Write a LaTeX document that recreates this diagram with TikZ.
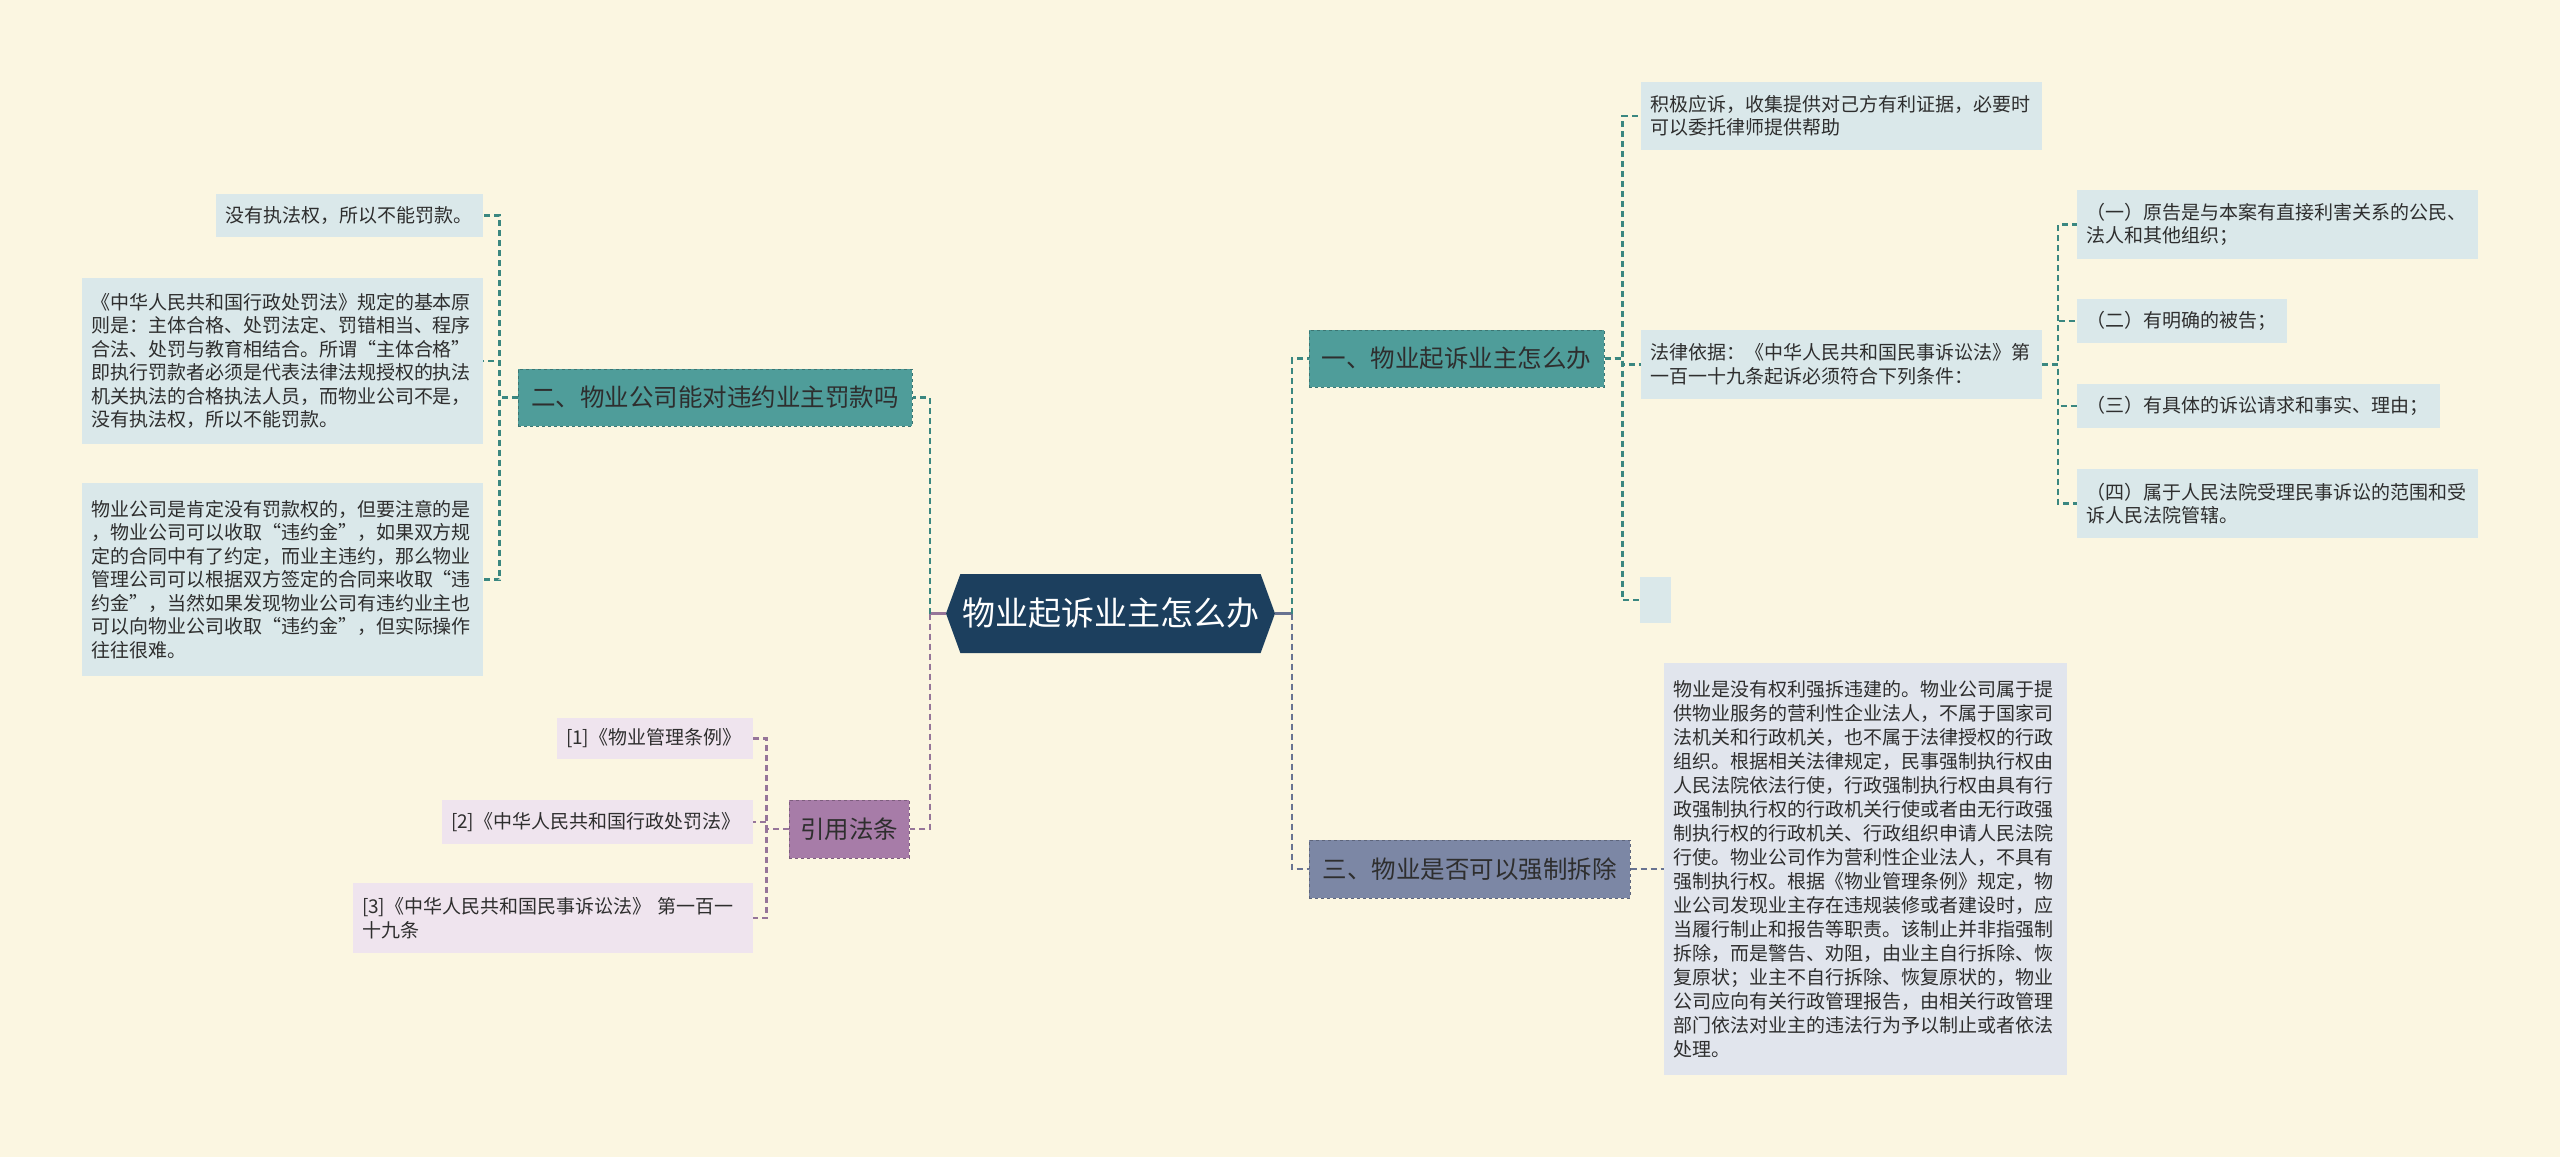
\documentclass[tikz,border=0pt]{standalone}
\usepackage{fontspec}
\newfontfamily\cjk{Noto Sans CJK SC}
\usepackage{tikz}
\usetikzlibrary{arrows.meta, shapes.symbols}
\definecolor{bgCream}{HTML}{FBF6E1}
\definecolor{rootBlue}{HTML}{1C3F5E}
\definecolor{tealFill}{HTML}{4F9D9A}
\definecolor{tealLine}{HTML}{3A8780}
\definecolor{plumFill}{HTML}{A77CA8}
\definecolor{plumLine}{HTML}{967599}
\definecolor{slateFill}{HTML}{7C87A5}
\definecolor{slateLine}{HTML}{687391}
\definecolor{leafBlue}{HTML}{DAE8EA}
\definecolor{leafPlum}{HTML}{EFE4EE}
\definecolor{leafSlate}{HTML}{E1E5ED}

\begin{document}
\begin{tikzpicture}[x=1pt, y=-1pt, >=Stealth,
      every node/.style={font=\cjk},
      root/.style={signal, signal to=west and east, signal pointer angle=140,
                   fill=rootBlue, text=white, inner sep=0,
                   minimum width=329, minimum height=79,
                   font=\cjk\fontsize{33}{38}\selectfont},
      topic/.style={draw=#1!75!black, fill=#1, dashed, line width=1pt,
                    text=black!82, inner sep=0,
                    font=\cjk\fontsize{24.5}{28}\selectfont},
      leaf/.style={fill=#1, text=black!82, align=left, inner xsep=9, inner ysep=0,
                   font=\cjk\fontsize{19}{23.5}\selectfont},
      stem/.style={line width=2.4pt},
      link/.style={dash pattern=on 6pt off 4pt, line width=2.1pt}]
    \useasboundingbox (0,0) rectangle (2560,1157);
    \fill[bgCream] (0,0) rectangle (2560,1157);

    % centre
    \node[root] (root) at (1110.5,613.5) {物业起诉业主怎么办};

    % left: 二
    \node[topic=tealFill, minimum width=394, minimum height=57] (er) at (715,397.5) {二、物业公司能对违约业主罚款吗};
    \node[leaf=leafBlue, text width=249, minimum height=43] (a1) at (349.5,215.5) {没有执法权，所以不能罚款。};
    \node[leaf=leafBlue, text width=383, minimum height=166] (a2) at (282.5,361)
      {《中华人民共和国行政处罚法》规定的基本原\\则是：主体合格、处罚法定、罚错相当、程序\\合法、处罚与教育相结合。所谓“主体合格”\\即执行罚款者必须是代表法律法规授权的执法\\机关执法的合格执法人员，而物业公司不是，\\没有执法权，所以不能罚款。};
    \node[leaf=leafBlue, text width=383, minimum height=193] (a3) at (282.5,579.5)
      {物业公司是肯定没有罚款权的，但要注意的是\\，物业公司可以收取“违约金”，如果双方规\\定的合同中有了约定，而业主违约，那么物业\\管理公司可以根据双方签定的合同来收取“违\\约金”，当然如果发现物业公司有违约业主也\\可以向物业公司收取“违约金”，但实际操作\\往往很难。};

    % left: 引用法条
    \node[topic=plumFill, minimum width=120, minimum height=58] (yy) at (849,829) {引用法条};
    \node[leaf=leafPlum, text width=178, minimum height=41] (b1) at (655,738.5) {[1]《物业管理条例》};
    \node[leaf=leafPlum, text width=293, minimum height=44] (b2) at (597.5,822) {[2]《中华人民共和国行政处罚法》};
    \node[leaf=leafPlum, text width=382, minimum height=70] (b3) at (553,918) {[3]《中华人民共和国民事诉讼法》 第一百一\\十九条};

    % right: 一
    \node[topic=tealFill, minimum width=295, minimum height=57] (yi) at (1456.5,358.5) {一、物业起诉业主怎么办};
    \node[leaf=leafBlue, text width=383, minimum height=68] (c1) at (1841.5,116) {积极应诉，收集提供对己方有利证据，必要时\\可以委托律师提供帮助};
    \node[leaf=leafBlue, text width=383, minimum height=69] (c2) at (1841.5,364.5) {法律依据：《中华人民共和国民事诉讼法》第\\一百一十九条起诉必须符合下列条件：};
    \node[leaf=leafBlue, inner sep=0, minimum width=31, minimum height=46] (c3) at (1655.5,600) {};
    \node[leaf=leafBlue, text width=383, minimum height=69] (d1) at (2277.5,224.5) {（一）原告是与本案有直接利害关系的公民、\\法人和其他组织；};
    \node[leaf=leafBlue, text width=192, minimum height=44] (d2) at (2182,321) {（二）有明确的被告；};
    \node[leaf=leafBlue, text width=345, minimum height=44] (d3) at (2258.5,406) {（三）有具体的诉讼请求和事实、理由；};
    \node[leaf=leafBlue, text width=383, minimum height=69] (d4) at (2277.5,503.5) {（四）属于人民法院受理民事诉讼的范围和受\\诉人民法院管辖。};

    % right: 三
    \node[topic=slateFill, minimum width=321, minimum height=58] (san) at (1469.5,869) {三、物业是否可以强制拆除};
    \node[leaf=leafSlate, text width=385, minimum height=412, font=\cjk\fontsize{19}{24}\selectfont] (e1) at (1865.5,869)
      {物业是没有权利强拆违建的。物业公司属于提\\供物业服务的营利性企业法人，不属于国家司\\法机关和行政机关，也不属于法律授权的行政\\组织。根据相关法律规定，民事强制执行权由\\人民法院依法行使，行政强制执行权由具有行\\政强制执行权的行政机关行使或者由无行政强\\制执行权的行政机关、行政组织申请人民法院\\行使。物业公司作为营利性企业法人，不具有\\强制执行权。根据《物业管理条例》规定，物\\业公司发现业主存在违规装修或者建设时，应\\当履行制止和报告等职责。该制止并非指强制\\拆除，而是警告、劝阻，由业主自行拆除、恢\\复原状；业主不自行拆除、恢复原状的，物业\\公司应向有关行政管理报告，由相关行政管理\\部门依法对业主的违法行为予以制止或者依法\\处理。};

    % connectors
    \draw[stem, plumLine] (root.west) -- ++(-16,0) coordinate (lt);
    \draw[link, tealLine] (lt) |- (er.east);
    \draw[link, plumLine] (lt) |- (yy.east);
    \draw[stem, slateLine] (root.east) -- ++(17,0) coordinate (rt);
    \draw[link, tealLine] (rt) |- (yi.west);
    \draw[link, slateLine] (rt) |- (san.west);
    \foreach \n in {a1,a2,a3}
      \draw[link, tealLine] (er.west) -- ++(-18,0) |- (\n.east);
    \foreach \n in {b1,b2,b3}
      \draw[link, plumLine] (yy.west) -- ++(-22,0) |- (\n.east);
    \foreach \n in {c1,c2,c3}
      \draw[link, tealLine] (yi.east) -- ++(18,0) |- (\n.west);
    \foreach \n in {d1,d2,d3,d4}
      \draw[link, tealLine] (c2.east) -- ++(16,0) |- (\n.west);
    \draw[link, slateLine] (san.east) -- (e1.west);
  \end{tikzpicture}
\end{document}
